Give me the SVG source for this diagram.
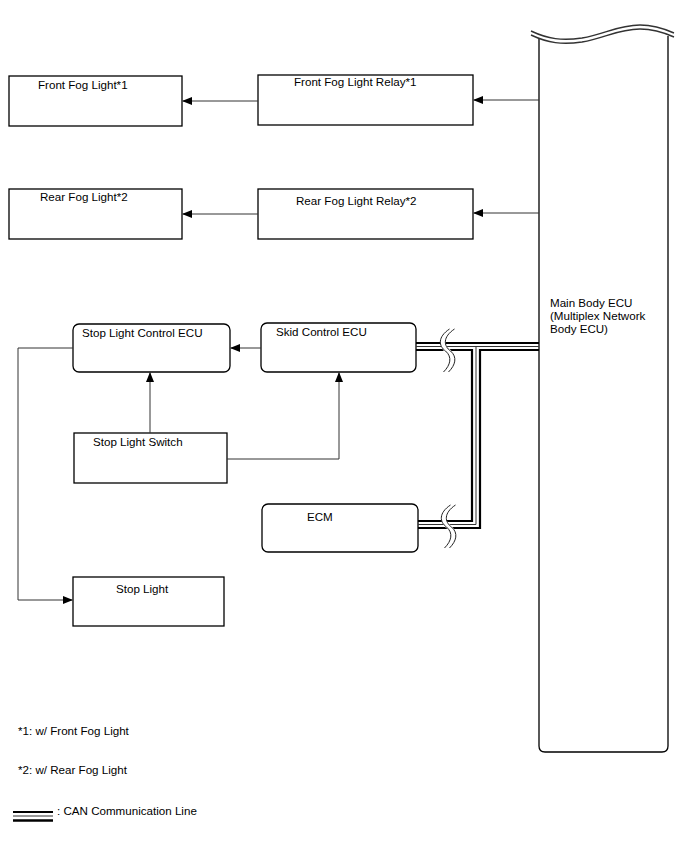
<svg xmlns="http://www.w3.org/2000/svg" width="688" height="852" viewBox="0 0 688 852">
<style>
text{font-family:"Liberation Sans",Arial,sans-serif;font-size:11.6px;fill:#000}
.box{fill:#fff;stroke:#000;stroke-width:1.3}
.ln{fill:none;stroke:#333;stroke-width:1}
.ct{fill:none;stroke:#000;stroke-width:2.2}
.cm{fill:none;stroke:#333;stroke-width:1}
</style>
<defs>
<marker id="ah" markerWidth="10" markerHeight="8" refX="9" refY="4" orient="auto" markerUnits="userSpaceOnUse">
<path d="M0,0 L10,4 L0,8 Z" fill="#000"/>
</marker>
</defs>
<rect width="688" height="852" fill="#fff"/>

<g id="main-body-ecu">
<path d="M539,38 L539,746 Q539,752 545,752 L662,752 Q668,752 668,746 L668,36" class="box" fill="#fff"/>
<path d="M531,31 C548,39 562,41 582,38 C605,34 618,25 640,25 C655,25 665,29 674,33" fill="none" stroke="#333" stroke-width="1.4"/>
<path d="M531,35 C548,43 562,45 582,42 C605,38 618,29 640,29 C655,29 665,33 674,37" fill="none" stroke="#333" stroke-width="1.4"/>
<text x="550" y="307">Main Body ECU</text>
<text x="550" y="320">(Multiplex Network</text>
<text x="550" y="333">Body ECU)</text>
</g>

<g id="front-fog-light">
<rect x="9" y="76" width="173" height="50" class="box"/>
<text x="38" y="89">Front Fog Light*1</text>
</g>
<g id="front-fog-light-relay">
<rect x="258" y="75" width="215" height="50" class="box"/>
<text x="294" y="86">Front Fog Light Relay*1</text>
</g>
<g id="rear-fog-light">
<rect x="9" y="189" width="173" height="50" class="box"/>
<text x="40" y="201">Rear Fog Light*2</text>
</g>
<g id="rear-fog-light-relay">
<rect x="258" y="189" width="215" height="50" class="box"/>
<text x="296" y="205">Rear Fog Light Relay*2</text>
</g>
<g id="stop-light-control-ecu">
<rect x="73" y="324" width="157" height="48" rx="6" class="box"/>
<text x="82" y="337">Stop Light Control ECU</text>
</g>
<g id="skid-control-ecu">
<rect x="261" y="323" width="155" height="49" rx="6" class="box"/>
<text x="276" y="336">Skid Control ECU</text>
</g>
<g id="stop-light-switch">
<rect x="74" y="433" width="153" height="50" class="box"/>
<text x="93" y="446">Stop Light Switch</text>
</g>
<g id="ecm">
<rect x="262" y="504" width="156" height="48" rx="6" class="box"/>
<text x="307" y="521">ECM</text>
</g>
<g id="stop-light">
<rect x="73" y="577" width="151" height="49" class="box"/>
<text x="116" y="593">Stop Light</text>
</g>

<g id="connectors">
<line x1="539" y1="100" x2="474" y2="100" class="ln" marker-end="url(#ah)"/>
<line x1="258" y1="101" x2="183" y2="101" class="ln" marker-end="url(#ah)"/>
<line x1="539" y1="213" x2="474" y2="213" class="ln" marker-end="url(#ah)"/>
<line x1="258" y1="214" x2="183" y2="214" class="ln" marker-end="url(#ah)"/>
<line x1="261" y1="348" x2="231" y2="348" class="ln" marker-end="url(#ah)"/>
<line x1="150" y1="433" x2="150" y2="373" class="ln" marker-end="url(#ah)"/>
<polyline points="227,459 339,459 339,373" class="ln" marker-end="url(#ah)"/>
<polyline points="73,348 18,348 18,600 72,600" class="ln" marker-end="url(#ah)"/>

<line x1="416" y1="343" x2="539" y2="343" class="ct" stroke-width="1.8"/>
<line x1="416" y1="346.5" x2="539" y2="346.5" class="cm"/>
<polyline points="416,350 472,350 472,521 418,521" class="ct"/>
<polyline points="476,346.5 476,524.5 418,524.5" class="cm"/>
<polyline points="539,350 480,350 480,528 418,528" class="ct"/>

<path d="M452,329 C440,337 441,346 448,351 C455,357 453,365 446,372" fill="none" stroke="#fff" stroke-width="5"/>
<path d="M449.5,329 C437.5,337 438.5,346 445.5,351 C452.5,357 450.5,365 443.5,372" fill="none" stroke="#222" stroke-width="1"/>
<path d="M454.5,329 C442.5,337 443.5,346 450.5,351 C457.5,357 455.5,365 448.5,372" fill="none" stroke="#222" stroke-width="1"/>
<path d="M453,505 C441,513 442,522 449,527 C456,533 454,541 447,548" fill="none" stroke="#fff" stroke-width="5"/>
<path d="M450.5,505 C438.5,513 439.5,522 446.5,527 C453.5,533 451.5,541 444.5,548" fill="none" stroke="#222" stroke-width="1"/>
<path d="M455.5,505 C443.5,513 444.5,522 451.5,527 C458.5,533 456.5,541 449.5,548" fill="none" stroke="#222" stroke-width="1"/>
</g>

<g id="legend">
<text x="18" y="735">*1: w/ Front Fog Light</text>
<text x="18" y="774">*2: w/ Rear Fog Light</text>
<line x1="13" y1="812" x2="53" y2="812" stroke="#000" stroke-width="2"/>
<line x1="13" y1="816" x2="53" y2="816" stroke="#333" stroke-width="1"/>
<line x1="13" y1="820.5" x2="53" y2="820.5" stroke="#000" stroke-width="2.4"/>
<text x="57" y="815">: CAN Communication Line</text>
</g>
</svg>
